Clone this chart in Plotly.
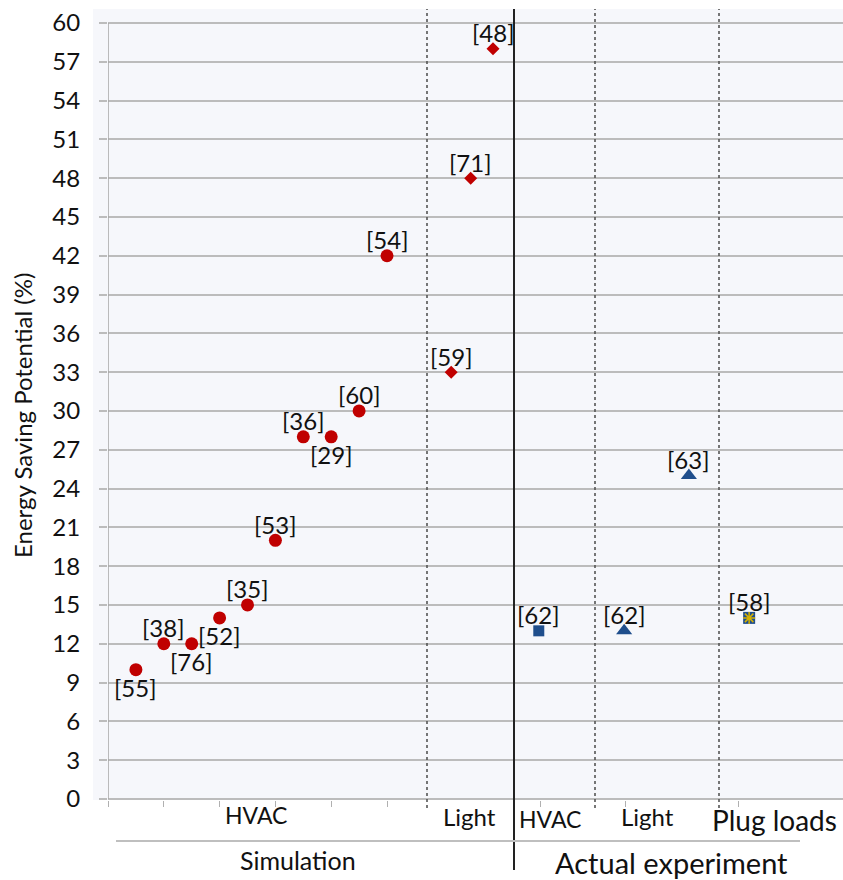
import plotly.graph_objects as go

# ---------------- data ----------------
sim_hvac_x = [0.5, 1.0, 1.5, 2.0, 2.5, 3.0, 3.5, 4.0, 4.5, 5.0]
sim_hvac_y = [10, 12, 12, 14, 15, 20, 28, 28, 30, 42]
sim_hvac_ref = ["[55]", "[38]", "[76]", "[52]", "[35]", "[53]", "[36]", "[29]", "[60]", "[54]"]
sim_hvac_pos = ["below", "above", "below", "below", "above", "above", "above", "below", "above", "above"]

sim_light_x = [6.15, 6.5, 6.9]
sim_light_y = [33, 48, 58]
sim_light_ref = ["[59]", "[71]", "[48]"]

exp_hvac_x = [7.72]
exp_hvac_y = [13]
exp_hvac_ref = ["[62]"]

exp_light_x = [9.25, 10.41]
exp_light_y = [13, 25]
exp_light_ref = ["[62]", "[63]"]

exp_plug_x = [11.49]
exp_plug_y = [14]
exp_plug_ref = ["[58]"]

y_ticks = list(range(0, 61, 3))

sub_labels = ["HVAC", "Light", "HVAC", "Light", "Plug loads"]
sub_label_x = [2.65, 6.47, 7.92, 9.66, 11.95]
group_labels = ["Simulation", "Actual experiment"]
group_label_x = [3.4, 10.1]

# ---------------- layout constants ----------------
W, H = 843, 880
ML, MR, MT, MB = 108, 0, 10, 80
PX_PER_X = 55.8
X_MAX = (W - ML - MR) / PX_PER_X
Y_MIN, Y_MAX = -0.08, 61.0
PH = H - MT - MB
PW = W - ML - MR


def py2paper(py):
    return (H - MB - py) / PH


def px2data(px):
    return (px - ML) / PX_PER_X


RED = "#c00000"
NAVY = "#1f4e8c"
GOLD = "#d4b000"
FONT = "Lato"
TXT = "#111111"

fig = go.Figure()

fig.add_trace(go.Scatter(x=sim_hvac_x, y=sim_hvac_y, mode="markers",
                         marker=dict(symbol="circle", size=13, color=RED),
                         showlegend=False, hoverinfo="skip"))
fig.add_trace(go.Scatter(x=sim_light_x, y=sim_light_y, mode="markers",
                         marker=dict(symbol="diamond", size=10, color=RED),
                         showlegend=False, hoverinfo="skip"))
fig.add_trace(go.Scatter(x=exp_hvac_x, y=exp_hvac_y, mode="markers",
                         marker=dict(symbol="square", size=11, color=NAVY),
                         showlegend=False, hoverinfo="skip"))
fig.add_trace(go.Scatter(x=exp_light_x, y=exp_light_y, mode="markers",
                         marker=dict(symbol="triangle-up", size=14, color=NAVY),
                         showlegend=False, hoverinfo="skip"))
fig.add_trace(go.Scatter(x=exp_plug_x, y=exp_plug_y, mode="markers",
                         marker=dict(symbol="square", size=12, color=NAVY),
                         showlegend=False, hoverinfo="skip"))
fig.add_trace(go.Scatter(x=exp_plug_x, y=exp_plug_y, mode="markers",
                         marker=dict(symbol="asterisk", size=10, color=GOLD,
                                     line=dict(color=GOLD, width=1.5)),
                         showlegend=False, hoverinfo="skip"))

annotations = []


def add_labels(xs, ys, refs, positions=None):
    for i, (x, y, t) in enumerate(zip(xs, ys, refs)):
        pos = positions[i] if positions else "above"
        annotations.append(dict(x=x, y=y, xref="x", yref="y", text=t, showarrow=False,
                                yshift=16 if pos == "above" else -18,
                                font=dict(family=FONT, size=24, color=TXT)))


add_labels(sim_hvac_x, sim_hvac_y, sim_hvac_ref, sim_hvac_pos)
add_labels(sim_light_x, sim_light_y, sim_light_ref)
add_labels(exp_hvac_x, exp_hvac_y, exp_hvac_ref)
add_labels(exp_light_x, exp_light_y, exp_light_ref)
add_labels(exp_plug_x, exp_plug_y, exp_plug_ref)

sub_sizes = [23, 24, 23, 24, 28]
sub_py = [815, 817, 819, 817, 820]
for t, x, s, p in zip(sub_labels, sub_label_x, sub_sizes, sub_py):
    annotations.append(dict(x=x, y=py2paper(p), xref="x", yref="paper", text=t,
                            xanchor="center", yanchor="middle",
                            showarrow=False, font=dict(family=FONT, size=s, color=TXT)))

group_sizes = [25, 29]
group_py = [860, 862]
for t, x, s, p in zip(group_labels, group_label_x, group_sizes, group_py):
    annotations.append(dict(x=x, y=py2paper(p), xref="x", yref="paper", text=t,
                            xanchor="center", yanchor="middle",
                            showarrow=False, font=dict(family=FONT, size=s, color=TXT)))

annotations.append(dict(x=(22 - ML) / PW, y=py2paper(416), xref="paper", yref="paper",
                        xanchor="center", yanchor="middle",
                        text="Energy Saving Potential (%)", textangle=-90, showarrow=False,
                        font=dict(family=FONT, size=24, color=TXT)))

shapes = []
# light plot background
shapes.append(dict(type="rect", xref="paper", yref="paper", x0=(93 - ML) / PW, x1=1,
                   y0=py2paper(800), y1=py2paper(9), fillcolor="#f6f7fb",
                   line=dict(width=0), layer="below"))
# y axis line
shapes.append(dict(type="line", xref="x", yref="y", x0=0, x1=0, y0=0, y1=60,
                   line=dict(color="#a6a6a6", width=1.5)))
# dotted separators
for px in [427, 595, 719]:
    shapes.append(dict(type="line", xref="x", yref="paper", x0=px2data(px), x1=px2data(px),
                       y0=py2paper(808), y1=py2paper(9),
                       line=dict(color="#555555", width=1.6, dash="dot")))
# solid separator
shapes.append(dict(type="line", xref="x", yref="paper", x0=px2data(514), x1=px2data(514),
                   y0=py2paper(870), y1=py2paper(9), line=dict(color="#222222", width=2)))
# group underline
shapes.append(dict(type="line", xref="x", yref="paper", x0=px2data(116), x1=px2data(800),
                   y0=py2paper(841), y1=py2paper(841), line=dict(color="#bfbfbf", width=2)))

fig.update_layout(
    width=W, height=H,
    margin=dict(l=ML, r=MR, t=MT, b=MB),
    paper_bgcolor="white", plot_bgcolor="rgba(0,0,0,0)",
    annotations=annotations, shapes=shapes,
    xaxis=dict(range=[0, X_MAX], showgrid=False, zeroline=False, showline=False,
               showticklabels=False, ticks="outside", ticklen=6, tickcolor="#b0b0b0",
               tickwidth=1.2, tickvals=[0, 1, 2, 3, 4, 5, 7.75, 9.27, 11.3]),
    yaxis=dict(range=[Y_MIN, Y_MAX], tickvals=y_ticks, showgrid=True, gridcolor="#bcbcbc",
               gridwidth=1.5, zeroline=False, showline=False, ticks="outside", ticklen=8,
               tickcolor="#bcbcbc", tickwidth=1.5, ticklabelstandoff=14,
               tickfont=dict(family=FONT, size=24, color=TXT)),
)

fig.write_html("out.html", config={"displayModeBar": False},
               post_script="document.body.style.margin='0';document.body.style.overflow='hidden';")
